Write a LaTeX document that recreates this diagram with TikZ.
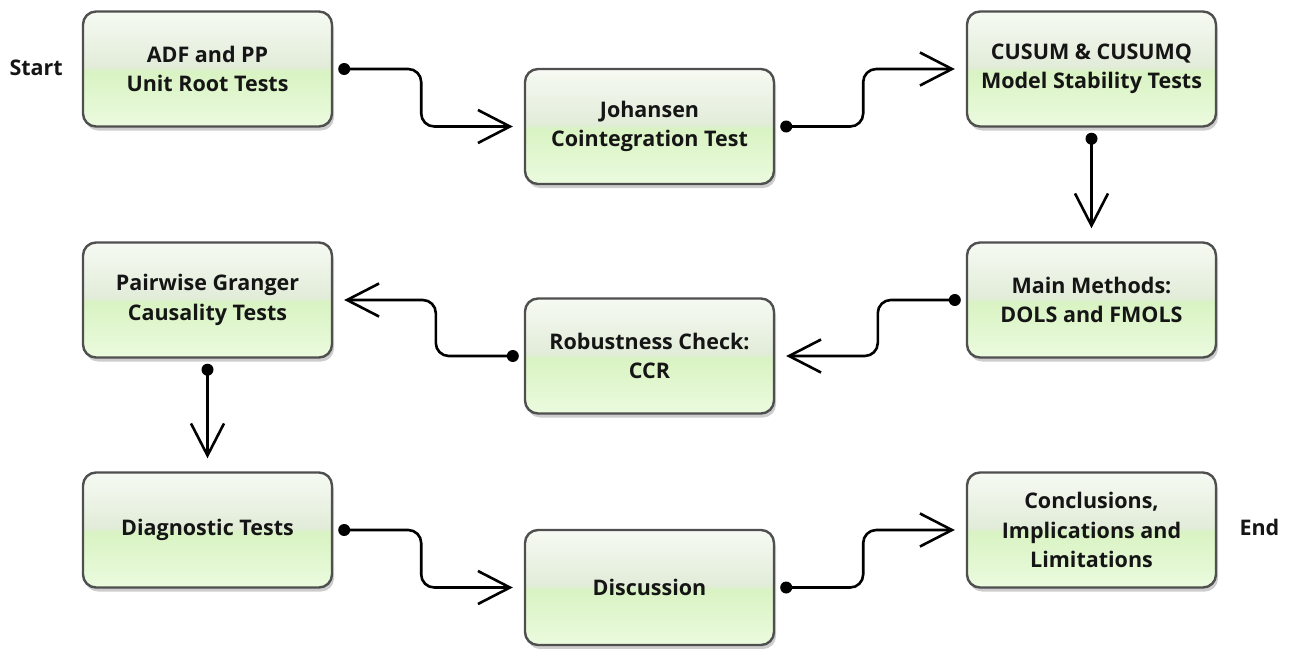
\documentclass[tikz,border=0pt]{standalone}
\usepackage{fontspec}
\setmainfont{Open Sans}
\usetikzlibrary{arrows.meta,shadows}

% glossy two-tone green fill for the process boxes
\definecolor{gTop}{HTML}{F6FAF3}
\definecolor{gUp}{HTML}{E2ECD9}
\definecolor{gLow}{HTML}{D9F3C3}
\definecolor{gBot}{HTML}{EBFBDF}
\definecolor{boxline}{HTML}{4F4F4F}
\definecolor{ink}{HTML}{151515}
\pgfdeclareverticalshading{boxgloss}{100bp}{%
  color(0bp)=(gBot); color(25bp)=(gBot); color(49bp)=(gLow);
  color(51bp)=(gUp); color(75bp)=(gTop); color(100bp)=(gTop)}

\tikzset{
  stage/.style={rectangle, rounded corners=13pt, draw=boxline, line width=2.4pt,
    shading=boxgloss, minimum width=249pt, minimum height=115pt,
    align=center, font=\bfseries\fontsize{21.5}{29.5}\selectfont, text=ink,
    drop shadow={shadow xshift=2pt, shadow yshift=-4pt, opacity=0.28, fill=black!70}},
  flow/.style={line width=2.6pt, rounded corners=13pt,
    -{Straight Barb[length=32pt, width=33pt, line width=2.6pt]}},
  dot/.style={circle, fill=black, inner sep=0pt, minimum size=12pt},
  endlabel/.style={font=\bfseries\fontsize{21.5}{24}\selectfont, text=ink}
}

\begin{document}
\begin{tikzpicture}[x=1pt, y=-1pt]
\useasboundingbox (0,0) rectangle (1290,648);

% process boxes
\node[stage] (adf)   at (207.5, 69)   {ADF and PP\\Unit Root Tests};
\node[stage] (joh)   at (649.5, 126.5){Johansen\\Cointegration Test};
\node[stage] (cusum) at (1091.5, 69)  {CUSUM \& CUSUMQ\\Model Stability Tests};
\node[stage] (main)  at (1091.5, 300) {Main Methods:\\DOLS and FMOLS};
\node[stage] (rob)   at (649.5, 356)  {Robustness Check:\\CCR};
\node[stage] (pgc)   at (207.5, 300)  {Pairwise Granger\\Causality Tests};
\node[stage] (diag)  at (207.5, 530)  {Diagnostic Tests};
\node[stage] (disc)  at (649.5, 587.5){Discussion};
\node[stage] (conc)  at (1091.5, 530) {Conclusions,\\Implications and\\Limitations};

\node[endlabel, anchor=west] (start) at (6, 68) {Start};
\node[endlabel, anchor=west] (end)   at (1236, 527) {End};

% start dots of the connectors
\node[dot] (d1) at ([xshift=11pt]adf.east) {};
\node[dot] (d2) at ([xshift=11pt]joh.east) {};
\node[dot] (d3) at ([yshift=-11pt]cusum.south) {};
\node[dot] (d4) at ([xshift=-11pt]main.west) {};
\node[dot] (d5) at ([xshift=-11pt]rob.west) {};
\node[dot] (d6) at ([yshift=-11pt]pgc.south) {};
\node[dot] (d7) at ([xshift=11pt]diag.east) {};
\node[dot] (d8) at ([xshift=11pt]disc.east) {};

% connectors
\draw[flow] (d1.center) -- ++(77,0) |- ([xshift=-11pt]joh.west);
\draw[flow] (d2.center) -- ++(77,0) |- ([xshift=-11pt]cusum.west);
\draw[flow] (d3.center) -- ([yshift=13pt]main.north);
\draw[flow] (d4.center) -- ++(-77,0) |- ([xshift=11pt]rob.east);
\draw[flow] (d5.center) -- ++(-77,0) |- ([xshift=11pt]pgc.east);
\draw[flow] (d6.center) -- ([yshift=13pt]diag.north);
\draw[flow] (d7.center) -- ++(77,0) |- ([xshift=-11pt]disc.west);
\draw[flow] (d8.center) -- ++(77,0) |- ([xshift=-11pt]conc.west);
\end{tikzpicture}
\end{document}
